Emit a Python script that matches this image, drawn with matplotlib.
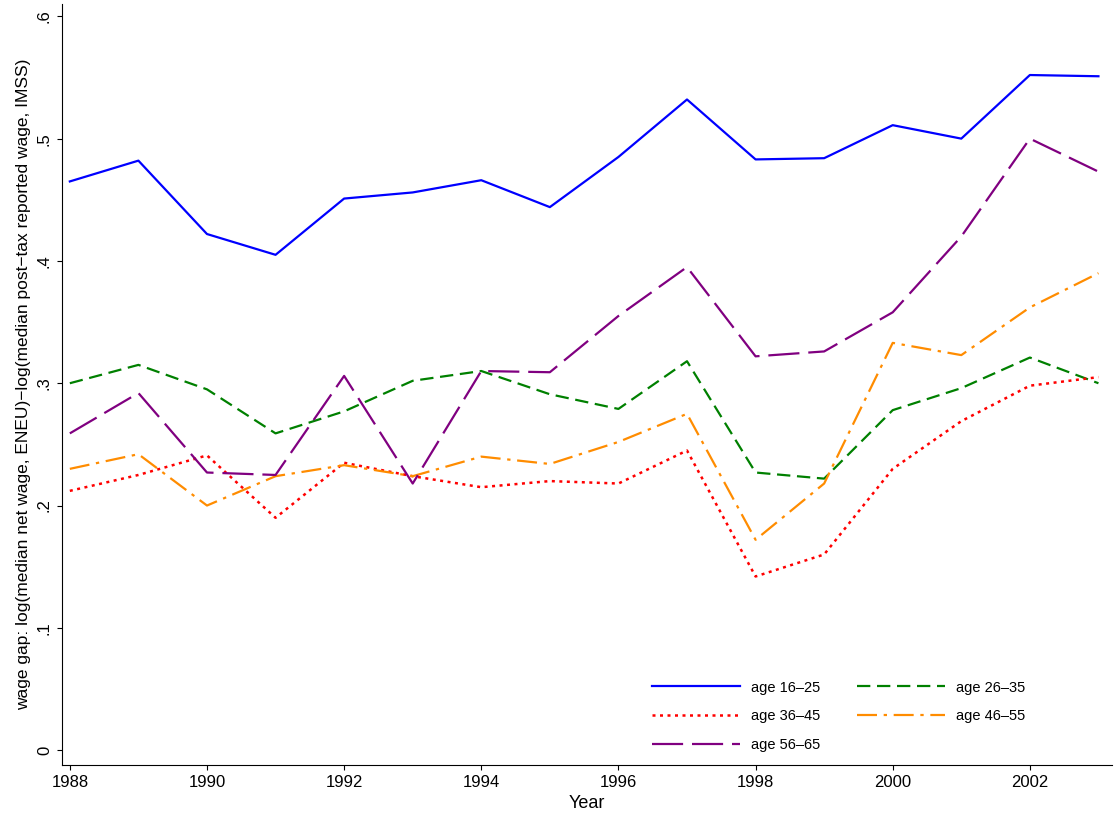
import matplotlib.pyplot as plt
import numpy as np

plt.rcParams['font.family'] = ['Liberation Sans', 'DejaVu Sans']

years = np.arange(1988, 2004)
age_16_25 = [.465, .482, .422, .405, .451, .456, .466, .444, .485, .532, .483, .484, .511, .500, .552, .551]
age_26_35 = [.300, .315, .295, .259, .277, .302, .310, .291, .279, .318, .227, .222, .278, .296, .321, .300]
age_36_45 = [.212, .225, .241, .190, .235, .224, .215, .220, .218, .245, .142, .160, .230, .269, .298, .305]
age_46_55 = [.230, .242, .200, .224, .233, .224, .240, .234, .252, .275, .172, .218, .333, .323, .362, .390]
age_56_65 = [.259, .292, .227, .225, .306, .218, .310, .309, .355, .395, .322, .326, .358, .420, .500, .473]

fig = plt.figure(figsize=(11.2, 8.18), dpi=100)
ax = fig.add_axes([0.055, 0.065, 0.938, 0.93])
h1, = ax.plot(years, age_16_25, color='#0000ff', lw=1.6, label='age 16\u201325')
h2, = ax.plot(years, age_26_35, color='#008000', lw=1.6, ls=(0, (6, 3)), label='age 26\u201335')
h3, = ax.plot(years, age_36_45, color='#ff0000', lw=1.8, ls=(0, (1.2, 1.8)), label='age 36\u201345')
h4, = ax.plot(years, age_46_55, color='#ff8c00', lw=1.6, ls=(0, (9, 3, 1.5, 3)), label='age 46\u201355')
h5, = ax.plot(years, age_56_65, color='#800080', lw=1.6, ls=(0, (14, 4)), label='age 56\u201365')

ax.set_xlim(1987.88, 2003.2)
ax.set_ylim(-0.012, 0.61)
ax.set_xticks(range(1988, 2004, 2))
ax.set_yticks([0, .1, .2, .3, .4, .5, .6])
ax.set_yticklabels(['0', '.1', '.2', '.3', '.4', '.5', '.6'], rotation=90, va='center')
ax.tick_params(labelsize=12)
ax.spines['top'].set_visible(False)
ax.spines['right'].set_visible(False)
ax.set_xlabel('Year', fontsize=13)
ax.set_ylabel('wage gap: log(median net wage, ENEU)\u2212log(median post\u2212tax reported wage, IMSS)', fontsize=12.5)
handles = [h1, h3, h5, h2, h4]
ax.legend(handles, [h.get_label() for h in handles], ncol=2, loc='lower right',
          bbox_to_anchor=(0.93, 0.0), frameon=False,
          fontsize=10.5, handlelength=6, columnspacing=2.5, labelspacing=1.0)
fig.savefig('out.png')
